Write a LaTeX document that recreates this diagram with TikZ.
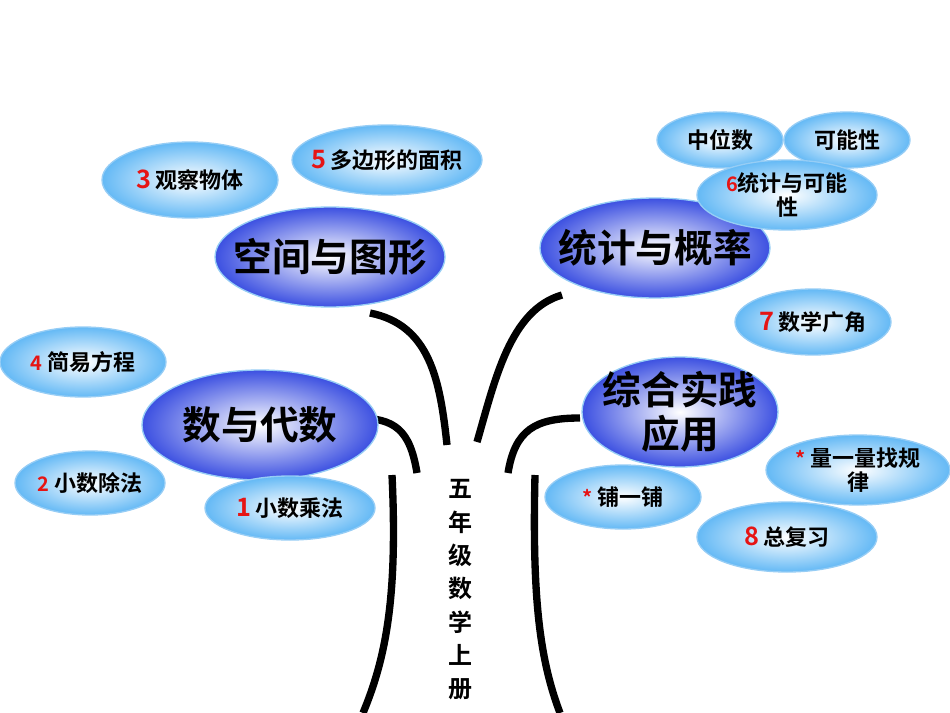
\documentclass[tikz,border=0pt]{standalone}
\usepackage{fontspec}
\setmainfont{Noto Sans CJK SC}[BoldFont={Noto Sans CJK SC Bold}]
\usetikzlibrary{shapes.geometric}
\definecolor{bigblue}{RGB}{60,80,225}
\definecolor{smallblue}{RGB}{100,185,245}
\definecolor{edgeblue}{RGB}{150,205,245}
\definecolor{numred}{RGB}{230,20,20}
\tikzset{
 big/.style={ellipse, inner color=white, outer color=bigblue, draw=edgeblue, line width=1pt, font=\fontsize{29}{33}\selectfont\bfseries, align=center, inner xsep=-20pt, inner ysep=-10pt},
 small/.style={ellipse, inner color=white, outer color=smallblue, draw=edgeblue, line width=1pt, font=\fontsize{16.5}{18}\selectfont\bfseries, align=center, inner xsep=-14pt, inner ysep=-5pt},
 limb/.style={line width=5.5pt},
}
\newcommand{\bn}[1]{\textcolor{numred}{\fontsize{19}{18}\selectfont #1}}
\newcommand{\sn}[1]{\textcolor{numred}{\fontsize{15}{18}\selectfont #1}}
\begin{document}
\begin{tikzpicture}[x=0.75pt,y=-0.75pt]
\useasboundingbox (0,0) rectangle (950,713);
% tree
\draw[limb] (392,475) .. controls (398,600) and (385,660) .. (363,713);
\draw[limb] (535,475) .. controls (532,600) and (540,660) .. (560,713);
\draw[limb] (370,313) .. controls (430,325) and (440,380) .. (447,445);
\draw[limb] (562,295) .. controls (510,310) and (495,380) .. (477,442);
\draw[limb] (357,418) .. controls (395,418) and (410,430) .. (417,473);
\draw[limb] (580,418) .. controls (535,418) and (515,430) .. (508,473);
\node[font=\fontsize{18}{25}\selectfont\bfseries, align=center] (trunk) at (460,590) {五\\年\\级\\数\\学\\上\\册};
% big
\node[big, minimum width=230*0.75pt, minimum height=100*0.75pt] (kj) at (330,257) {空间与图形};
\node[big, minimum width=230*0.75pt, minimum height=100*0.75pt] (tj) at (655,248) {统计与概率};
\node[big, minimum width=236*0.75pt, minimum height=110*0.75pt] (sd) at (260,425) {数与代数};
\node[big, minimum width=196*0.75pt, minimum height=110*0.75pt] (zh) at (680,412) {综合实践\\应用};
% small
\node[small, minimum width=176*0.75pt, minimum height=76*0.75pt] (gc) at (190,180) {\bn{3} 观察物体};
\node[small, minimum width=190*0.75pt, minimum height=70*0.75pt] (dbx) at (387,160) {\bn{5} 多边形的面积};
\node[small, minimum width=126*0.75pt, minimum height=56*0.75pt] (zw) at (720,140) {中位数};
\node[small, minimum width=126*0.75pt, minimum height=56*0.75pt] (kn) at (847,140) {可能性};
\node[small, minimum width=180*0.75pt, minimum height=70*0.75pt] (tjk) at (787,195) {\sn{6}统计与可能\\性};
\node[small, minimum width=156*0.75pt, minimum height=66*0.75pt] (sx) at (813,322) {\bn{7} 数学广角};
\node[small, minimum width=166*0.75pt, minimum height=70*0.75pt] (jy) at (83,362) {\sn{4} 简易方程};
\node[small, minimum width=150*0.75pt, minimum height=64*0.75pt] (cf) at (90,483) {\sn{2} 小数除法};
\node[small, minimum width=170*0.75pt, minimum height=64*0.75pt] (cc) at (290,508) {\bn{1} 小数乘法};
\node[small, minimum width=156*0.75pt, minimum height=64*0.75pt] (py) at (623,497) {\sn{*} 铺一铺};
\node[small, minimum width=184*0.75pt, minimum height=70*0.75pt] (ll) at (858,470) {\sn{*} 量一量找规\\律};
\node[small, minimum width=180*0.75pt, minimum height=70*0.75pt] (zf) at (787,537) {\bn{8} 总复习};
\end{tikzpicture}
\end{document}
